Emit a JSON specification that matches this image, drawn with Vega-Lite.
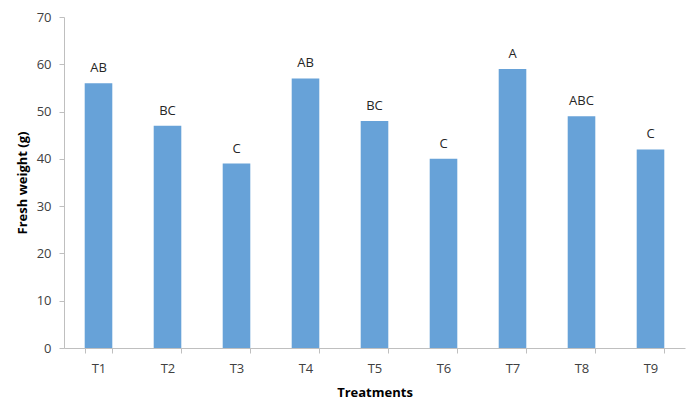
{
  "$schema": "https://vega.github.io/schema/vega-lite/v6.json",
  "width": 621,
  "height": 331,
  "autosize": {"type": "none"},
  "padding": {"left": 64, "top": 17, "right": 7, "bottom": 52},
  "background": "white",
  "config": {
    "view": {"stroke": null},
    "font": "Open Sans"
  },
  "data": {
    "values": [
      {"treatment": "T1", "weight": 56, "group": "AB"},
      {"treatment": "T2", "weight": 47, "group": "BC"},
      {"treatment": "T3", "weight": 39, "group": "C"},
      {"treatment": "T4", "weight": 57, "group": "AB"},
      {"treatment": "T5", "weight": 48, "group": "BC"},
      {"treatment": "T6", "weight": 40, "group": "C"},
      {"treatment": "T7", "weight": 59, "group": "A"},
      {"treatment": "T8", "weight": 49, "group": "ABC"},
      {"treatment": "T9", "weight": 42, "group": "C"}
    ]
  },
  "encoding": {
    "x": {
      "field": "treatment",
      "type": "nominal",
      "sort": null,
      "scale": {"paddingInner": 0.6, "paddingOuter": 0.3},
      "axis": {
        "title": "Treatments",
        "titleFont": "Open Sans",
        "titleFontSize": 13,
        "titleFontWeight": "bold",
        "titleColor": "#000000",
        "titleBaseline": "middle",
        "titleY": 44,
        "labelAngle": 0,
        "labelFontSize": 13,
        "labelColor": "#404040",
        "labelPadding": 15,
        "labelBaseline": "middle",
        "tickBand": "extent",
        "tickSize": 5,
        "tickColor": "#BFBFBF",
        "domainColor": "#BFBFBF",
        "grid": false
      }
    },
    "y": {
      "field": "weight",
      "type": "quantitative",
      "scale": {"domain": [0, 70], "nice": false},
      "axis": {
        "title": "Fresh weight (g)",
        "titleFont": "Open Sans",
        "titleFontSize": 13,
        "titleFontWeight": "bold",
        "titleColor": "#000000",
        "titleAngle": -90,
        "titleAlign": "center",
        "titleBaseline": "middle",
        "titleX": -42,
        "titleY": 165.5,
        "values": [0, 10, 20, 30, 40, 50, 60, 70],
        "labelFontSize": 13,
        "labelColor": "#404040",
        "labelPadding": 8,
        "tickSize": 5,
        "tickColor": "#BFBFBF",
        "domainColor": "#BFBFBF",
        "grid": false
      }
    }
  },
  "layer": [
    {
      "mark": {"type": "bar", "color": "#67A2D8"}
    },
    {
      "mark": {
        "type": "text",
        "baseline": "middle",
        "dy": -15,
        "fontSize": 13,
        "color": "#262626"
      },
      "encoding": {
        "text": {"field": "group", "type": "nominal"}
      }
    }
  ]
}
